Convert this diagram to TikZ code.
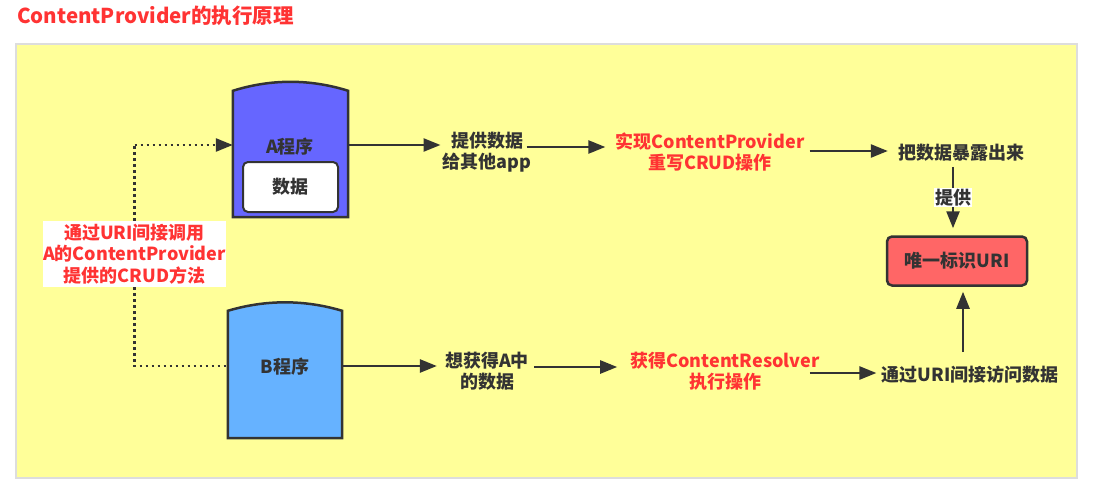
\documentclass[tikz,border=0pt]{standalone}
\usepackage{fontspec}
\setmainfont{Noto Sans CJK SC}
\usetikzlibrary{arrows.meta,calc}
\definecolor{panelC}{HTML}{FFFF99}
\definecolor{panelB}{HTML}{DDDDDD}
\definecolor{lineC}{HTML}{333333}
\definecolor{redT}{HTML}{FF3333}
\definecolor{redBox}{HTML}{FF6666}
\definecolor{aFill}{HTML}{6666FF}
\definecolor{bFill}{HTML}{66B2FF}
\begin{document}
\begin{tikzpicture}[x=1pt,y=-1pt,
  every node/.style={font=\fontsize{18}{21.5}\selectfont\bfseries, text=lineC},
  txt/.style={inner sep=0pt, align=center},
  redtxt/.style={txt, text=redT},
  arr/.style={draw=lineC, line width=2.5pt, -{Triangle[length=17pt,width=13pt]}},
  dotline/.style={draw=lineC, line width=2.5pt, dash pattern=on 2.5pt off 3.5pt},
  prog/.style={draw=lineC, line width=2.5pt, line join=miter},
  frame/.style={minimum width=115pt, minimum height=144pt, inner sep=0pt, draw=none}
]
\useasboundingbox (0,0) rectangle (1094,492);
\fill[white] (0,0) rectangle (1094,492);
% title
\node[anchor=west, inner sep=0pt, text=redT, font=\fontsize{20.5}{23}\selectfont\bfseries] (title) at (17,16) {ContentProvider的执行原理};
% panel
\draw[fill=panelC, draw=panelB, line width=2pt] (16,44) rectangle (1077,478);

% program A
\node[frame] (A) at (290.5,145) {};
\draw[prog, fill=aFill] (A.south west) -- ($(A.north west)+(0,18)$)
  .. controls ($(A.north west)+(38.3,6)$) and ($(A.north east)+(-38.3,6)$) .. ($(A.north east)+(0,18)$)
  -- (A.south east) -- cycle;
\node[txt] (Atxt) at (290,147) {A程序};
\node[draw=lineC, line width=2pt, fill=white, rounded corners=5pt, minimum width=95pt, minimum height=50pt, inner sep=0pt] (Adata) at (290.5,187) {数据};

% program B
\node[frame, minimum width=114pt] (B) at (285,366) {};
\draw[prog, fill=bFill] (B.south west) -- ($(B.north west)+(0,17)$)
  .. controls ($(B.north west)+(38,5.7)$) and ($(B.north east)+(-38,5.7)$) .. ($(B.north east)+(0,17)$)
  -- (B.south east) -- cycle;
\node[txt] (Btxt) at (285,367) {B程序};

% label with dotted connectors
\node[fill=white, text=redT, align=center, inner sep=0pt, minimum width=181pt, minimum height=66pt] (lbl) at (134.5,254) {通过URI间接调用\\A的ContentProvider\\提供的CRUD方法};
\draw[dotline] (lbl.north) -- (lbl.north |- A.west);
\draw[dotline] (lbl.south) |- (B.west);
\draw[dotline, -{Triangle[length=17pt,width=13pt]}] (lbl.north |- A.west) -- (A.west);

% top row texts
\node[txt] (t1) at (487,152) {提供数据\\给其他app};
\node[redtxt] (t2) at (710,152) {实现ContentProvider\\重写CRUD操作};
\node[txt] (t3) at (961,153) {把数据暴露出来};
\node[draw=lineC, line width=2.5pt, fill=redBox, rounded corners=5pt, minimum width=140pt, minimum height=49pt, inner sep=0pt] (uri) at (957,261) {唯一标识URI};
% bottom row texts
\node[txt] (t4) at (487,371) {想获得A中\\的数据};
\node[redtxt] (t5) at (725,371) {获得ContentResolver\\执行操作};
\node[txt] (t6) at (970,375) {通过URI间接访问数据};

% arrows
\draw[arr] (A.east) -- ($(A.east -| t1.west)+(-2,0)$);
\draw[arr] ($(t1.east)+(-5,-5)$) -- ($(t2.west |- t1.east)+(-10,-5)$);
\draw[arr] ($(t2.east)+(5,-1)$) -- ($(t3.west |- t2.east)+(-10,-1)$);
\draw[arr] ($(t3.south -| uri.north)+(-4,5)$) -- ($(uri.north)+(-4,-7)$)
  node[midway, fill=white, inner sep=1pt] (prov) {提供};
\draw[arr] (B.east) -- ($(B.east -| t4.west)+(-8,0)$);
\draw[arr] ($(t4.east)+(5,-4)$) -- ($(t5.west |- t4.east)+(-13,-4)$);
\draw[arr] ($(t5.east)+(-10,2)$) -- ($(t6.west |- t5.east)+(-5,2)$);
\draw[arr] ($(t6.north -| uri.south)+(6,-14)$) -- ($(uri.south)+(6,5)$);
\end{tikzpicture}
\end{document}
